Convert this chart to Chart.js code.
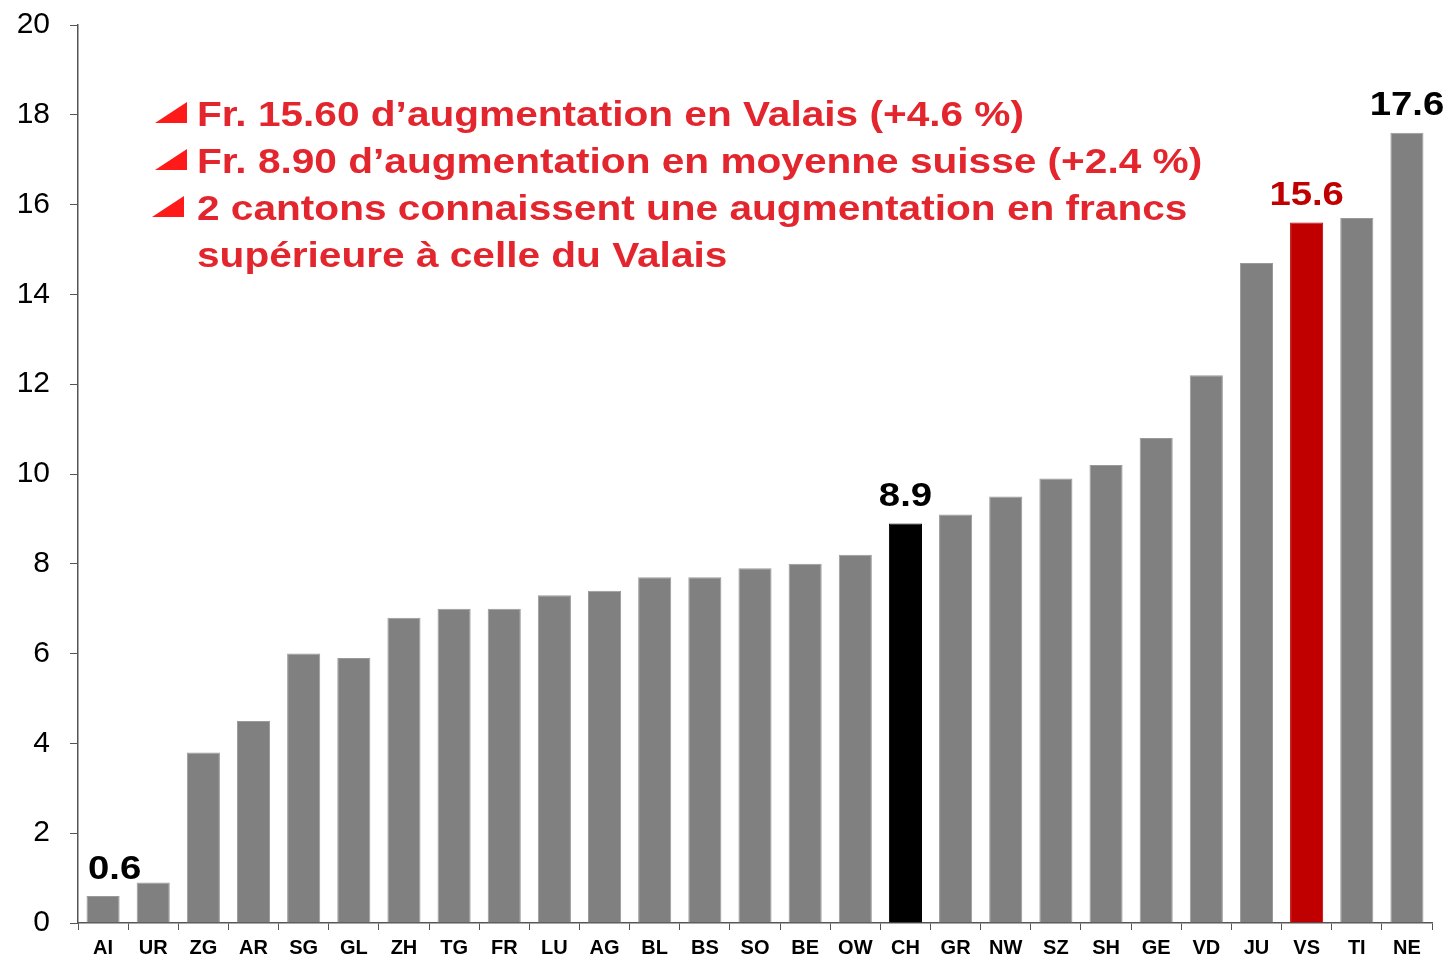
<!DOCTYPE html>
<html>
<head>
<meta charset="utf-8">
<script src="https://cdn.jsdelivr.net/npm/chart.js@4/dist/chart.umd.min.js"></script>
<style>
  html, body { margin: 0; padding: 0; background: #fff; }
  #wrap { width: 1444px; height: 961px; }
</style>
</head>
<body>
<div id="wrap"><canvas id="cantonChart" width="1444" height="961"></canvas></div>
<script>
// hausse en francs par canton
const cantons = ['AI','UR','ZG','AR','SG','GL','ZH','TG','FR','LU','AG','BL','BS','SO','BE','OW','CH','GR','NW','SZ','SH','GE','VD','JU','VS','TI','NE'];
const values = [0.6, 0.9, 3.8, 4.5, 6.0, 5.9, 6.8, 7.0, 7.0, 7.3, 7.4, 7.7, 7.7, 7.9, 8.0, 8.2, 8.9, 9.1, 9.5, 9.9, 10.2, 10.8, 12.2, 14.7, 15.6, 15.7, 17.6];
const labelled = ['AI', 'CH', 'VS', 'NE'];
const notes = [
  ['Fr. 15.60 d\u2019augmentation en Valais (+4.6 %)', true],
  ['Fr. 8.90 d\u2019augmentation en moyenne suisse (+2.4 %)', true],
  ['2 cantons connaissent une augmentation en francs', true],
  ['sup\u00e9rieure \u00e0 celle du Valais', false]
];

const barColor = c => c === 'VS' ? '#c00000' : (c === 'CH' ? '#000000' : '#808080');
const stretch = 1.16; // le texte d'origine est un peu étiré en largeur

const valueLabels = {
  id: 'valueLabels',
  afterDatasetsDraw(chart) {
    const ctx = chart.ctx;
    const meta = chart.getDatasetMeta(0);
    ctx.save();
    ctx.font = 'bold 33px "Liberation Sans", Arial, sans-serif';
    ctx.textAlign = 'center';
    ctx.textBaseline = 'bottom';
    cantons.forEach((c, i) => {
      if (!labelled.includes(c)) return;
      const bar = meta.data[i];
      const txt = values[i].toFixed(1);
      const half = ctx.measureText(txt).width * stretch / 2;
      const cx = Math.max(bar.x, chart.chartArea.left + 10 + half);
      ctx.fillStyle = c === 'VS' ? '#c00000' : '#000';
      ctx.save();
      ctx.translate(cx, bar.y - 10);
      ctx.scale(stretch, 1);
      ctx.fillText(txt, 0, 0);
      ctx.restore();
    });
    ctx.restore();
  }
};

const notesBox = {
  id: 'notesBox',
  afterDraw(chart) {
    const ctx = chart.ctx;
    ctx.save();
    ctx.font = 'bold 35px "Liberation Sans", Arial, sans-serif';
    ctx.textBaseline = 'alphabetic';
    let y = 126;
    notes.forEach(([txt, bullet], k) => {
      if (bullet) {
        const x0 = k === 2 ? 152 : 155;
        ctx.fillStyle = '#ff1a1a';
        ctx.beginPath();
        ctx.moveTo(x0, y - 3);
        ctx.lineTo(x0 + 32, y - 3);
        ctx.lineTo(x0 + 32, y - 24);
        ctx.closePath();
        ctx.fill();
      }
      ctx.fillStyle = '#e3262e';
      ctx.save();
      ctx.translate(197, y);
      ctx.scale(stretch, 1);
      ctx.fillText(txt, 0, 0);
      ctx.restore();
      y += 47;
    });
    ctx.restore();
  }
};

new Chart(document.getElementById('cantonChart'), {
  type: 'bar',
  data: {
    labels: cantons,
    datasets: [{
      data: values,
      backgroundColor: cantons.map(barColor),
      borderColor: cantons.map(c => c === 'VS' || c === 'CH' ? barColor(c) : '#9a9a9a'),
      borderWidth: 1,
      barPercentage: 0.66,
      categoryPercentage: 1.0
    }]
  },
  options: {
    responsive: false,
    animation: false,
    layout: { padding: { top: 25, right: 12, left: 0, bottom: 0 } },
    plugins: { legend: { display: false }, tooltip: { enabled: false } },
    scales: {
      x: {
        grid: { drawOnChartArea: false, tickLength: 7, color: '#555' },
        border: { color: '#555', width: 1.5 },
        ticks: { color: '#000', padding: 6, font: { family: '"Liberation Sans", Arial', size: 20, weight: 'bold' } },
        afterFit(scale) { scale.height = 38; scale.paddingLeft = 0; scale.paddingRight = 0; }
      },
      y: {
        min: 0, max: 20,
        grid: { drawOnChartArea: false, tickLength: 8, color: '#555' },
        border: { color: '#555', width: 1.5 },
        ticks: { stepSize: 2, color: '#000', padding: 20, font: { family: '"Liberation Sans", Arial', size: 30 } },
        afterFit(scale) { scale.width = 78; scale.paddingTop = 0; scale.paddingBottom = 0; }
      }
    }
  },
  plugins: [valueLabels, notesBox]
});
</script>
</body>
</html>
